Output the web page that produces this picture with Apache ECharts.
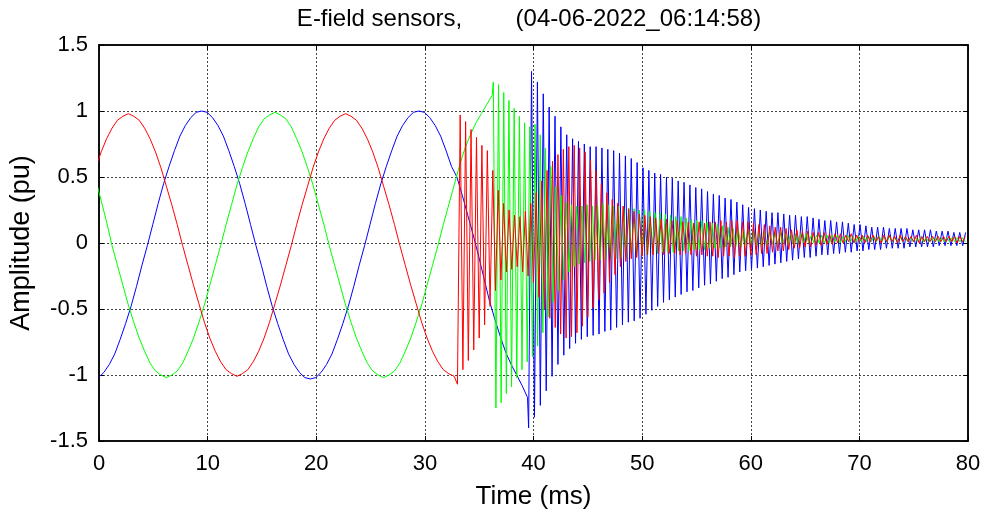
<!DOCTYPE html>
<html>
<head>
<meta charset="utf-8">
<script src="https://cdn.jsdelivr.net/npm/echarts@6/dist/echarts.min.js"></script>
<style>html,body{margin:0;padding:0;background:#fff;}#c{width:985px;height:518px;}</style>
</head>
<body>
<div id="c"></div>
<script>
// ---- tick values ----
const xTicks = [0, 10, 20, 30, 40, 50, 60, 70, 80];
const yTicks = [-1.5, -1, -0.5, 0, 0.5, 1, 1.5];

// ---- pre-fault sinusoids, sampled every 0.5 ms ----
const preStep = 0.5;
const redPreStart = -0.3;
const redPre = [0.57,0.69,0.79,0.87,0.93,0.96,0.98,0.96,0.93,0.87,
 0.79,0.69,0.57,0.43,0.29,0.14,-0.02,-0.17,-0.32,-0.46,
 -0.60,-0.72,-0.82,-0.90,-0.96,-0.99,-1.01,-0.99,-0.96,-0.90,
 -0.82,-0.72,-0.60,-0.46,-0.32,-0.17,-0.02,0.14,0.29,0.43,
 0.57,0.69,0.79,0.87,0.93,0.96,0.98,0.96,0.93,0.87,
 0.79,0.69,0.57,0.43,0.29,0.14,-0.02,-0.17,-0.32,-0.46,
 -0.60,-0.72,-0.82,-0.90,-0.96,-0.99,-1.01];
const bluePreStart = -0.05;
const bluePre = [-1.02,-0.98,-0.92,-0.84,-0.73,-0.61,-0.48,-0.33,-0.17,-0.02,
 0.14,0.30,0.45,0.58,0.70,0.81,0.89,0.95,0.99,1.00,
 0.99,0.95,0.89,0.81,0.70,0.58,0.45,0.30,0.14,-0.02,
 -0.17,-0.33,-0.48,-0.61,-0.73,-0.84,-0.92,-0.98,-1.02,-1.03,
 -1.02,-0.98,-0.92,-0.84,-0.73,-0.61,-0.48,-0.33,-0.17,-0.02,
 0.14,0.30,0.45,0.58,0.70,0.81,0.89,0.95,0.99,1.00,
 0.99,0.95,0.89,0.81,0.70,0.58,0.50,0.36,0.21,0.06,
 -0.10,-0.27,-0.44,-0.58,-0.71,-0.83,-0.92,-1.00,-1.08,-1.17];
const greenPreStart = -0.3;
const greenPre = [0.48,0.32,0.16,-0.02,-0.17,-0.32,-0.47,-0.60,-0.72,-0.82,
 -0.91,-0.97,-1.00,-1.02,-1.00,-0.97,-0.91,-0.82,-0.72,-0.60,
 -0.47,-0.32,-0.17,-0.02,0.14,0.29,0.44,0.57,0.69,0.79,
 0.88,0.94,0.97,0.99,0.97,0.94,0.88,0.79,0.69,0.57,
 0.44,0.29,0.14,-0.02,-0.17,-0.32,-0.47,-0.60,-0.72,-0.82,
 -0.91,-0.97,-1.00,-1.02,-1.00,-0.97,-0.91,-0.82,-0.72,-0.60,
 -0.47,-0.32,-0.17,-0.02,0.14,0.29,0.44,0.59,0.72,0.82,
 0.91,0.98,1.05,1.12];

// ---- post-fault oscillation: per-cycle low and high extremes ----
const redPostStart = 33.0, redPeriod = 0.5;
const redLo = [-1.07,-0.96,-0.89,-0.81,-0.72,-0.62,-0.48,-0.36,-0.28,-0.22,
 -0.20,-0.18,-0.22,-0.25,-0.30,-0.41,-0.50,-0.57,-0.64,-0.69,
 -0.72,-0.71,-0.68,-0.63,-0.56,-0.49,-0.43,-0.38,-0.30,-0.24,
 -0.18,-0.14,-0.12,-0.11,-0.10,-0.09,-0.09,-0.08,-0.09,-0.08,
 -0.08,-0.09,-0.08,-0.09,-0.10,-0.09,-0.10,-0.10,-0.11,-0.10,
 -0.10,-0.11,-0.10,-0.10,-0.09,-0.09,-0.08,-0.08,-0.07,-0.06,
 -0.06,-0.05,-0.04,-0.04,-0.03,-0.03,-0.02,-0.02,-0.01,-0.01,
 0.00,0.00,0.01,0.00,0.01,0.00,0.01,0.01,0.00,0.01,
 0.01,0.00,0.01,0.01,0.01,0.00,0.01,0.01,0.01,0.01,
 0.01,0.01,0.00,0.01];
const redHi = [0.97,0.92,0.86,0.80,0.74,0.70,0.55,0.40,0.30,0.25,
 0.21,0.20,0.24,0.30,0.38,0.47,0.55,0.62,0.67,0.71,
 0.73,0.74,0.72,0.69,0.63,0.55,0.45,0.38,0.33,0.30,
 0.28,0.26,0.24,0.22,0.21,0.20,0.19,0.18,0.18,0.17,
 0.17,0.16,0.16,0.15,0.16,0.15,0.16,0.16,0.17,0.16,
 0.17,0.17,0.16,0.16,0.15,0.14,0.14,0.13,0.12,0.12,
 0.11,0.10,0.10,0.09,0.09,0.08,0.08,0.08,0.07,0.07,
 0.07,0.06,0.07,0.06,0.06,0.06,0.06,0.05,0.06,0.06,
 0.05,0.06,0.05,0.05,0.06,0.05,0.05,0.05,0.05,0.05,
 0.05,0.05,0.05,0.05];

const greenPostStart = 36.3, greenPeriod = 0.48;
const greenHi = [1.22,1.20,1.14,1.08,1.02,0.96,0.91,0.88,0.90,0.82,
 0.72,0.58,0.43,0.36,0.31,0.29,0.28,0.28,0.29,0.28,
 0.29,0.30,0.29,0.28,0.28,0.27,0.26,0.26,0.25,0.25,
 0.24,0.23,0.23,0.22,0.21,0.20,0.20,0.19,0.18,0.17,
 0.17,0.16,0.15,0.14,0.13,0.12,0.11,0.10,0.10,0.09,
 0.09,0.09,0.08,0.08,0.08,0.08,0.07,0.07,0.07,0.07,
 0.07,0.06,0.06,0.06,0.06,0.06,0.06,0.05,0.06,0.05,
 0.05,0.05,0.05,0.05,0.05,0.05,0.05,0.04,0.05,0.04,
 0.04,0.04,0.04,0.04,0.04,0.04,0.04,0.04,0.04,0.04,0.04];
const greenLo = [-1.25,-1.21,-1.14,-1.09,-1.02,-0.96,-0.90,-0.86,-0.78,-0.68,
 -0.56,-0.45,-0.36,-0.28,-0.22,-0.18,-0.16,-0.15,-0.14,-0.13,
 -0.13,-0.12,-0.12,-0.12,-0.11,-0.11,-0.10,-0.10,-0.09,-0.09,
 -0.08,-0.08,-0.07,-0.07,-0.07,-0.06,-0.06,-0.06,-0.05,-0.05,
 -0.05,-0.04,-0.04,-0.04,-0.03,-0.03,-0.03,-0.03,-0.02,-0.02,
 -0.02,-0.02,-0.02,-0.01,-0.01,-0.01,-0.01,-0.01,-0.01,0.00,
 0.00,0.00,0.00,0.00,0.00,0.01,0.00,0.01,0.01,0.01,
 0.01,0.01,0.01,0.01,0.01,0.01,0.01,0.01,0.01,0.01,
 0.01,0.01,0.01,0.01,0.01,0.01,0.01,0.01,0.01,0.01,0.01];

const bluePostStart = 39.55, bluePeriod = 0.54;
const blueLo = [-1.40,-1.32,-1.23,-1.12,-1.01,-0.92,-0.85,-0.80,-0.76,-0.73,
 -0.71,-0.70,-0.69,-0.67,-0.66,-0.64,-0.62,-0.60,-0.59,-0.57,
 -0.54,-0.51,-0.48,-0.45,-0.43,-0.41,-0.39,-0.37,-0.36,-0.34,
 -0.32,-0.31,-0.29,-0.27,-0.26,-0.24,-0.22,-0.21,-0.20,-0.19,
 -0.18,-0.17,-0.16,-0.15,-0.14,-0.13,-0.12,-0.11,-0.11,-0.10,
 -0.09,-0.09,-0.08,-0.08,-0.07,-0.07,-0.06,-0.06,-0.05,-0.05,
 -0.05,-0.04,-0.04,-0.04,-0.04,-0.03,-0.03,-0.03,-0.03,-0.03,
 -0.02,-0.02,-0.02,-0.02,-0.02];
const blueHi = [1.30,1.22,1.13,1.03,0.96,0.88,0.82,0.79,0.77,0.75,
 0.73,0.73,0.72,0.71,0.70,0.68,0.66,0.64,0.61,0.57,
 0.55,0.53,0.52,0.50,0.49,0.47,0.46,0.44,0.42,0.41,
 0.39,0.37,0.36,0.34,0.33,0.31,0.29,0.27,0.26,0.25,
 0.24,0.23,0.23,0.22,0.21,0.21,0.20,0.20,0.19,0.18,
 0.17,0.17,0.16,0.16,0.15,0.14,0.14,0.13,0.12,0.12,
 0.12,0.11,0.11,0.11,0.11,0.10,0.10,0.10,0.10,0.09,
 0.09,0.09,0.08,0.08,0.08];

// ---- build [time, value] point lists ----
function buildPre(start, vals) {
  return vals.map((v, i) => [+(start + i * preStep).toFixed(3), v]);
}
function buildPost(start, period, first, second) {
  const out = [];
  for (let i = 0; i < first.length; i++) {
    out.push([+(start + i * period).toFixed(3), first[i]]);
    out.push([+(start + i * period + period / 2).toFixed(3), second[i]]);
  }
  return out;
}
const redData = buildPre(redPreStart, redPre).concat(buildPost(redPostStart, redPeriod, redLo, redHi));
const greenData = buildPre(greenPreStart, greenPre).concat(buildPost(greenPostStart, greenPeriod, greenHi, greenLo));
const blueData = buildPre(bluePreStart, bluePre).concat(buildPost(bluePostStart, bluePeriod, blueLo, blueHi));

const FONT = 'Liberation Sans';
const chart = echarts.init(document.getElementById('c'), null, {renderer: 'canvas'});

const gridLine = {show: true, lineStyle: {color: '#444', type: [2, 2], width: 1}};
const axisCommon = {
  type: 'value',
  axisLine: {show: true, onZero: false, lineStyle: {color: '#000', width: 1.5}},
  axisTick: {show: true, inside: true, length: 5, lineStyle: {color: '#000', width: 1}},
};

chart.setOption({
  animation: false,
  backgroundColor: '#fff',
  title: {
    text: 'E-field sensors,        (04-06-2022_06:14:58)',
    left: 524, top: 2, textAlign: 'center',
    textStyle: {fontFamily: FONT, fontSize: 24, fontWeight: 'normal', color: '#000'}
  },
  grid: {left: 99, right: 17, top: 45, bottom: 77, show: true, borderColor: '#000', borderWidth: 1.5, backgroundColor: '#fff'},
  xAxis: [
    Object.assign({}, axisCommon, {
      min: xTicks[0], max: xTicks[xTicks.length - 1], interval: 10, position: 'bottom',
      axisLabel: {fontFamily: FONT, fontSize: 22, color: '#000', margin: 12},
      splitLine: gridLine,
      name: 'Time (ms)', nameLocation: 'middle', nameGap: 43,
      nameTextStyle: {fontFamily: FONT, fontSize: 26, color: '#000'}
    }),
    Object.assign({}, axisCommon, {
      min: xTicks[0], max: xTicks[xTicks.length - 1], interval: 10, position: 'top',
      axisLabel: {show: false}, splitLine: {show: false}
    })
  ],
  yAxis: [
    Object.assign({}, axisCommon, {
      min: yTicks[0], max: yTicks[yTicks.length - 1], interval: 0.5, position: 'left',
      axisLabel: {fontFamily: FONT, fontSize: 22, color: '#000', margin: 11},
      splitLine: gridLine,
      name: 'Amplitude (pu)', nameLocation: 'middle', nameGap: 64,
      nameTextStyle: {fontFamily: FONT, fontSize: 27, color: '#000'}
    }),
    Object.assign({}, axisCommon, {
      min: yTicks[0], max: yTicks[yTicks.length - 1], interval: 0.5, position: 'right',
      axisLabel: {show: false}, splitLine: {show: false}
    })
  ],
  series: [
    {name: 'blue', type: 'line', data: blueData, showSymbol: false, symbol: 'none', clip: true,
     lineStyle: {color: '#0000FF', width: 1}, itemStyle: {color: '#0000FF'}},
    {name: 'green', type: 'line', data: greenData, showSymbol: false, symbol: 'none', clip: true,
     lineStyle: {color: '#00FF00', width: 1}, itemStyle: {color: '#00FF00'}},
    {name: 'red', type: 'line', data: redData, showSymbol: false, symbol: 'none', clip: true,
     lineStyle: {color: '#FF0000', width: 1}, itemStyle: {color: '#FF0000'}}
  ]
});
</script>
</body>
</html>
